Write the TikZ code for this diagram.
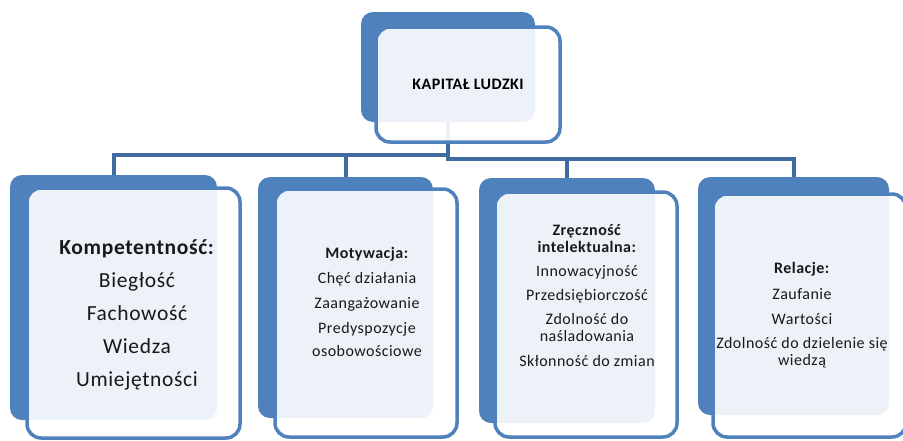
\documentclass[tikz,border=0pt]{standalone}
\usepackage{fontspec}
\setmainfont{Carlito}[LetterSpace=3]
\usetikzlibrary{backgrounds}
\definecolor{boxblue}{HTML}{4F81BD}
\definecolor{linkblue}{HTML}{3F6B9F}

\begin{document}
\begin{tikzpicture}[x=1pt,y=-1pt,
    backbox/.style={fill=boxblue,rounded corners=12pt,inner sep=0},
    frontbox/.style={draw=boxblue,line width=3.5pt,fill=white,fill opacity=0.9,
        text opacity=1,rounded corners=14pt,inner sep=0},
    link/.style={draw=linkblue,line width=4pt},
    boxtext/.style={align=center,text=black!90,font=\fontsize{16}{17}\selectfont}]
    \useasboundingbox (0,0) rectangle (903,440);
    \clip (0,0) rectangle (903,440);
    % top
    \node[backbox,minimum width=174,minimum height=110] (kapitalB) at (448,67) {};
    \node[frontbox,minimum width=184,minimum height=115] (kapital) at (468,84.5)
        {\fontsize{16}{17}\selectfont\bfseries KAPITAŁ LUDZKI};
    % cards
    \node[backbox,minimum width=207,minimum height=245] (kompB) at (113.5,297.5) {};
    \node[frontbox,minimum width=213,minimum height=250] (komp) at (133.5,313) {};
    \node[backbox,minimum width=175,minimum height=241] (motB) at (345.5,297.5) {};
    \node[frontbox,minimum width=182,minimum height=248] (mot) at (366,313) {};
    \node[backbox,minimum width=176,minimum height=245] (zrecB) at (567,300.5) {};
    \node[frontbox,minimum width=182,minimum height=245] (zrec) at (586,314.5) {};
    \node[backbox,minimum width=191,minimum height=238] (relB) at (793.5,296) {};
    \node[frontbox,minimum width=193,minimum height=243] (rel) at (809.5,315.5) {};
    % texts
    \node[boxtext,font=\fontsize{21.5}{24}\selectfont] (kompT) at (137,315)
        {\textbf{Kompetentność:}\\[9pt] Biegłość\\[9pt] Fachowość\\[9pt] Wiedza\\[9pt] Umiejętności};
    \node[boxtext] (motT) at (367,302)
        {\textbf{Motywacja:}\\[8pt] Chęć działania\\[8pt] Zaangażowanie\\[8pt] Predyspozycje\\[6pt] osobowościowe};
    \node[boxtext] (zrecT) at (587,296)
        {\textbf{Zręczność}\\ \textbf{intelektualna:}\\[7pt] Innowacyjność\\[7pt] Przedsiębiorczość\\[7pt] Zdolność do\\ naśladowania\\[8pt] Skłonność do zmian};
    \node[boxtext] (relT) at (802,315)
        {\textbf{Relacje:}\\[9pt] Zaufanie\\[8pt] Wartości\\[7pt] Zdolność do dzielenie się\\ wiedzą};
    % links
    \begin{scope}[on background layer]
        \draw[link] (kapitalB.center) -- (kapitalB.center |- 0,155) -| (kompB.north);
        \draw[link] (kapitalB.center) -- (kapitalB.center |- 0,155) -| (motB.north);
        \draw[link] (kapitalB.center) -- (kapitalB.center |- 0,159) -| (zrecB.north);
        \draw[link] (kapitalB.center) -- (kapitalB.center |- 0,159) -| (relB.north);
    \end{scope}
\end{tikzpicture}
\end{document}
